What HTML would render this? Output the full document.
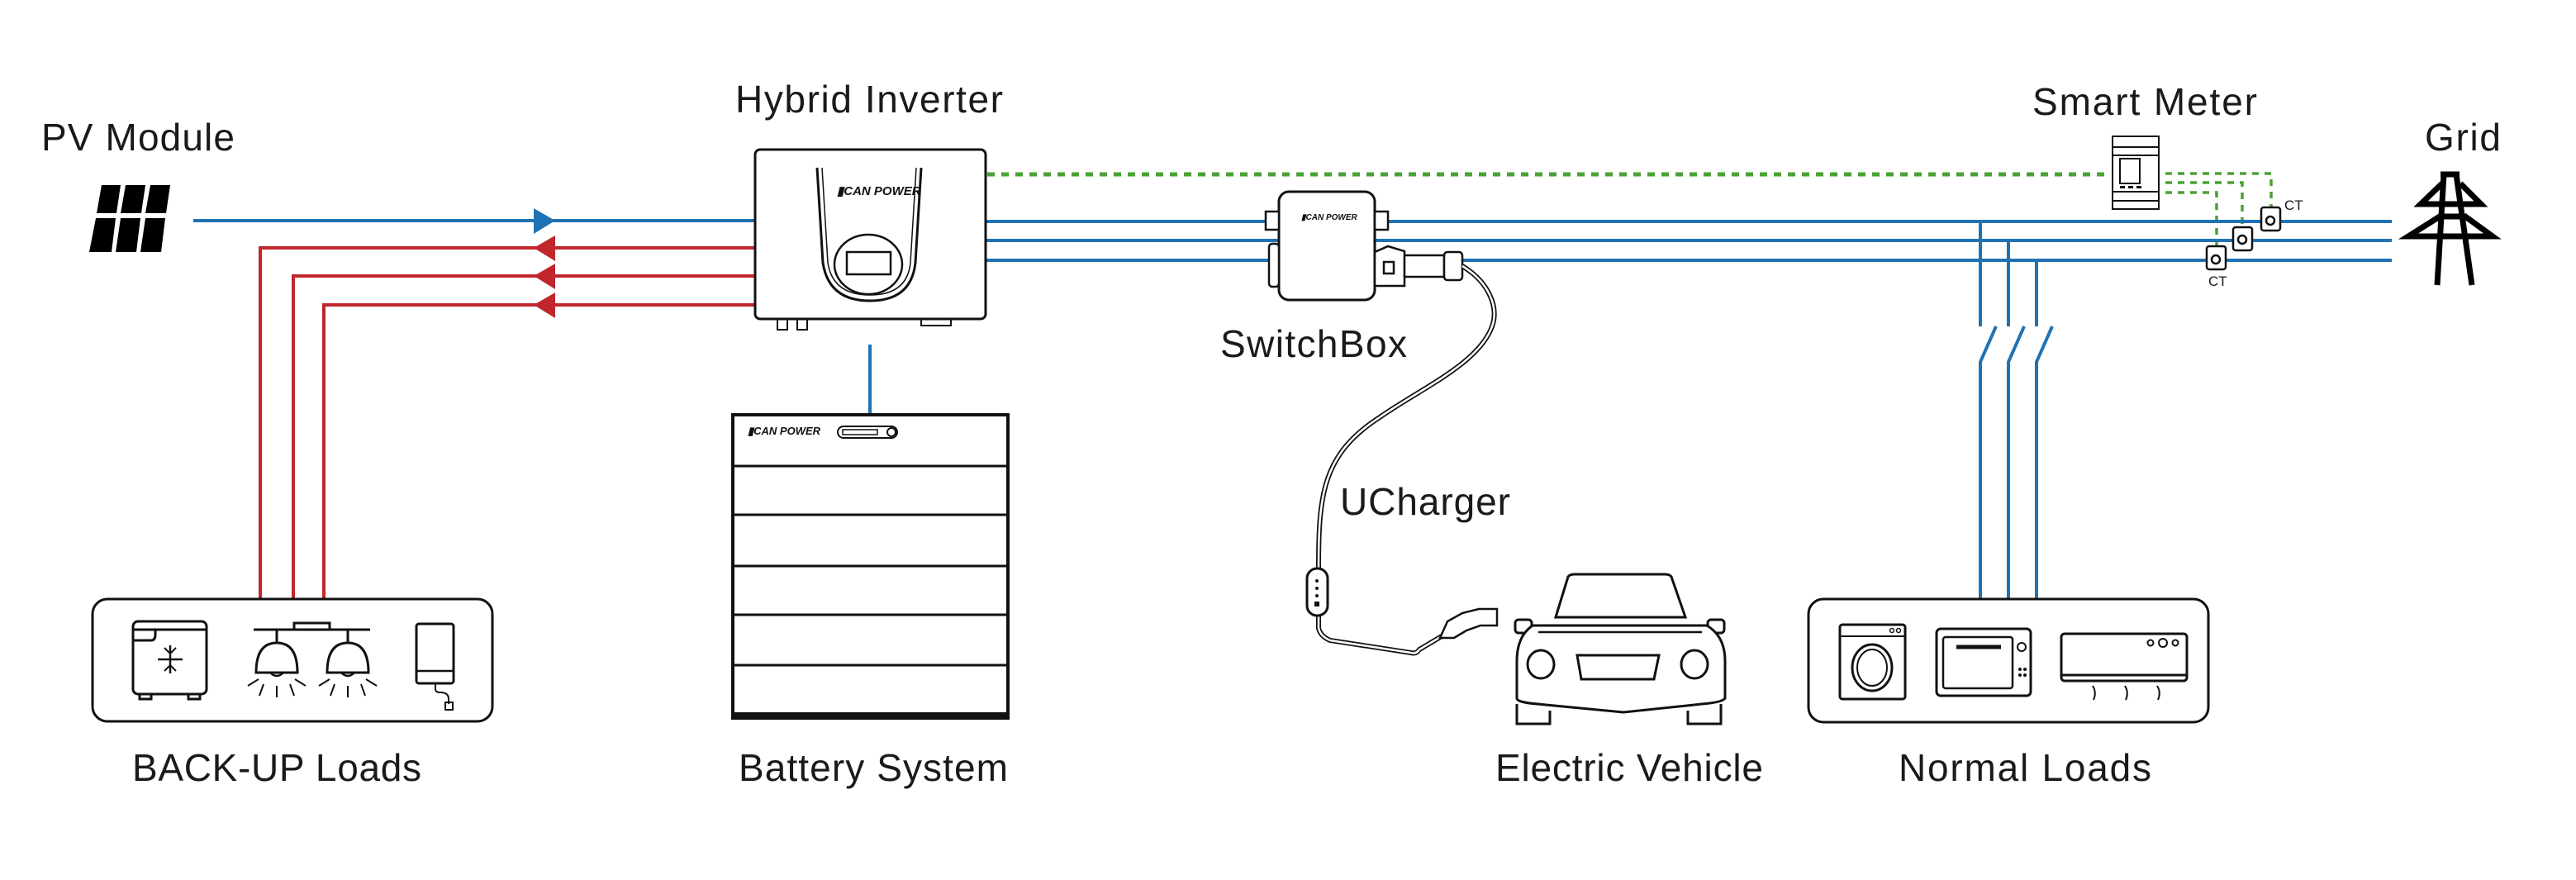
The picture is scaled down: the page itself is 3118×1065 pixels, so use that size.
<!DOCTYPE html>
<html><head><meta charset="utf-8"><style>
html,body{margin:0;padding:0;background:#fff;}
svg{display:block;}
text{font-family:"Liberation Sans",sans-serif;fill:#1a1a1a;}
</style></head><body>
<svg width="3118" height="1065" viewBox="0 0 3118 1065" xmlns="http://www.w3.org/2000/svg">
<rect width="3118" height="1065" fill="#fff"/>
<!-- labels -->
<text x="50" y="182" font-size="46" textLength="234">PV Module</text>
<text x="890" y="136" font-size="46" textLength="324">Hybrid Inverter</text>
<text x="2460" y="139" font-size="46" textLength="272">Smart Meter</text>
<text x="2935" y="182" font-size="46" textLength="92">Grid</text>
<text x="1477" y="432" font-size="46" textLength="226">SwitchBox</text>
<text x="1622" y="623" font-size="46" textLength="206">UCharger</text>
<text x="160" y="945" font-size="46" textLength="350">BACK-UP Loads</text>
<text x="894" y="945" font-size="46" textLength="326">Battery System</text>
<text x="1810" y="945" font-size="46" textLength="324">Electric Vehicle</text>
<text x="2298" y="945" font-size="46" textLength="306">Normal Loads</text>

<!-- solar panel -->
<g fill="#000">
<polygon points="123,224 146,224 141,258 117,258" transform="skewX(0)"/>
<polygon points="152,224 176,224 171,258 146,258"/>
<polygon points="182,224 206,224 201,258 176,258"/>
<polygon points="116,264 140,264 135,305 108,305"/>
<polygon points="146,264 170,264 165,305 140,305"/>
<polygon points="176,264 200,264 195,305 170,305"/>
</g>

<!-- PV line -->
<line x1="234" y1="267" x2="916" y2="267" stroke="#1f72b4" stroke-width="4"/>
<polygon points="646,252 672,267 646,283" fill="#1f72b4"/>

<!-- red lines -->
<g fill="none" stroke="#c0262c" stroke-width="4">
<polyline points="916,300 315,300 315,725"/>
<polyline points="916,334 355,334 355,725"/>
<polyline points="916,369 392,369 392,725"/>
</g>
<g fill="#c0262c">
<polygon points="672,285 646,300 672,316"/>
<polygon points="672,319 646,334 672,350"/>
<polygon points="672,354 646,369 672,385"/>
</g>

<!-- green dashed -->
<line x1="1195" y1="211" x2="2555" y2="211" stroke="#4aa236" stroke-width="5" stroke-dasharray="9,8"/>
<g fill="none" stroke="#4aa236" stroke-width="3.5" stroke-dasharray="8,7">
<polyline points="2621,210 2749,210 2749,251"/>
<polyline points="2621,221 2714,221 2714,275"/>
<polyline points="2621,233 2683,233 2683,298"/>
</g>

<!-- blue grid lines -->
<g stroke="#1f72b4" stroke-width="4" fill="none">
<line x1="1193" y1="268" x2="2895" y2="268"/>
<line x1="1193" y1="291" x2="2895" y2="291"/>
<line x1="1193" y1="315" x2="2895" y2="315"/>
<polyline points="2397,268 2397,395"/>
<polyline points="2431,291 2431,395"/>
<polyline points="2465,315 2465,395"/>
<polyline points="2416,395 2397,438 2397,725"/>
<polyline points="2450,395 2431,438 2431,725"/>
<polyline points="2484,395 2465,438 2465,725"/>
<line x1="1053" y1="417" x2="1053" y2="502"/>
</g>

<!-- inverter -->
<rect x="914" y="181" width="279" height="205" rx="6" fill="#fff" stroke="#111" stroke-width="3"/>
<path d="M989,203 L996,318 Q1003,364 1053,364 Q1103,364 1108,318 L1115,203" fill="none" stroke="#111" stroke-width="3"/>
<path d="M995,203 L1002,318 Q1008,357 1053,357 Q1098,357 1102,318 L1109,203" fill="none" stroke="#111" stroke-width="1.5"/>
<ellipse cx="1051" cy="320" rx="41" ry="36" fill="none" stroke="#111" stroke-width="2.5"/>
<rect x="1025" y="305" width="53" height="27" fill="none" stroke="#111" stroke-width="2.5"/>
<text x="1013" y="236" font-size="15" font-style="italic" font-weight="bold" style="fill:#111">▮CAN POWER</text>
<rect x="941" y="386" width="12" height="13" fill="none" stroke="#111" stroke-width="2"/>
<rect x="965" y="386" width="12" height="13" fill="none" stroke="#111" stroke-width="2"/>
<rect x="1115" y="386" width="36" height="8" fill="none" stroke="#111" stroke-width="2"/>

<!-- battery -->
<rect x="887" y="502" width="333" height="367" fill="#fff" stroke="#111" stroke-width="4"/>
<rect x="885" y="862" width="337" height="9" fill="#111"/>
<g stroke="#111" stroke-width="3">
<line x1="887" y1="564" x2="1220" y2="564"/>
<line x1="887" y1="623" x2="1220" y2="623"/>
<line x1="887" y1="685" x2="1220" y2="685"/>
<line x1="887" y1="744" x2="1220" y2="744"/>
<line x1="887" y1="805" x2="1220" y2="805"/>
</g>
<text x="905" y="526" font-size="13" font-style="italic" font-weight="bold" style="fill:#111">▮CAN POWER</text>
<rect x="1014" y="516" width="72" height="14" rx="7" fill="none" stroke="#111" stroke-width="2"/>
<rect x="1020" y="520" width="42" height="6" fill="none" stroke="#111" stroke-width="1.5"/>
<circle cx="1079" cy="523" r="5" fill="none" stroke="#111" stroke-width="2"/>

<!-- backup loads box -->
<rect x="112" y="725" width="484" height="148" rx="18" fill="#fff" stroke="#111" stroke-width="3"/>
<g fill="none" stroke="#111" stroke-width="3">
<rect x="161" y="752" width="89" height="88" rx="6"/>
<line x1="161" y1="762" x2="250" y2="762"/>
<path d="M161,775 L183,775 Q188,775 188,768 L188,762"/>
<rect x="169" y="840" width="14" height="6"/>
<rect x="228" y="840" width="14" height="6"/>
<line x1="206" y1="781" x2="206" y2="815" stroke-width="2.5"/>
<line x1="191" y1="798" x2="221" y2="798" stroke-width="2.5"/>
<path d="M199,784 L206,791 L213,784 M199,812 L206,805 L213,812" stroke-width="2"/>
<line x1="307" y1="762" x2="448" y2="762"/>
<rect x="356" y="754" width="43" height="8"/>
<line x1="335" y1="762" x2="335" y2="778"/>
<line x1="421" y1="762" x2="421" y2="778"/>
<path d="M310,814 Q310,778 335,778 Q360,778 360,814 Z"/>
<path d="M396,814 Q396,778 421,778 Q446,778 446,814 Z"/>
<path d="M327,814 Q335,822 343,814 M413,814 Q421,822 429,814" stroke-width="2.5"/>
<path d="M300,830 L313,822 M314,842 L319,828 M335,844 L335,830 M351,828 L356,842 M357,822 L370,830" stroke-width="2"/>
<path d="M386,830 L399,822 M400,842 L405,828 M421,844 L421,830 M437,828 L442,842 M443,822 L456,830" stroke-width="2"/>
<rect x="504" y="755" width="45" height="72" rx="3"/>
<line x1="504" y1="812" x2="549" y2="812" stroke-width="2.5"/>
<path d="M527,827 L527,834 Q527,838 533,838 Q543,838 543,846 L543,852" stroke-width="2"/>
<rect x="539" y="850" width="9" height="9" stroke-width="2"/>
</g>

<!-- switchbox -->
<rect x="1548" y="232" width="116" height="131" rx="12" fill="#fff" stroke="#111" stroke-width="3"/>
<text x="1575" y="266" font-size="10" font-style="italic" font-weight="bold" style="fill:#111">▮CAN POWER</text>
<g fill="#fff" stroke="#111" stroke-width="2.5">
<rect x="1532" y="256" width="16" height="22"/>
<rect x="1664" y="256" width="16" height="22"/>
<rect x="1536" y="295" width="12" height="52" rx="4"/>
<path d="M1664,305 L1680,298 L1700,304 L1700,346 L1664,346 Z"/>
<rect x="1675" y="317" width="12" height="14"/>
<rect x="1700" y="309" width="48" height="26"/>
<rect x="1748" y="305" width="22" height="34" rx="4"/>
</g>

<!-- charger cable -->
<path d="M1770,322 C1800,340 1815,370 1806,395 C1790,440 1720,470 1670,505 C1600,550 1596,600 1596,688" fill="none" stroke="#111" stroke-width="6"/>
<path d="M1770,322 C1800,340 1815,370 1806,395 C1790,440 1720,470 1670,505 C1600,550 1596,600 1596,688" fill="none" stroke="#fff" stroke-width="2.5"/>
<path d="M1596,744 L1596,760 Q1598,770 1610,775 L1708,790 Q1714,792 1718,786 L1745,770" fill="none" stroke="#111" stroke-width="6"/>
<path d="M1596,744 L1596,760 Q1598,770 1610,775 L1708,790 Q1714,792 1718,786 L1745,770" fill="none" stroke="#fff" stroke-width="2.5"/>
<rect x="1582" y="688" width="25" height="57" rx="12" fill="#fff" stroke="#111" stroke-width="3"/>
<g fill="#111"><circle cx="1594" cy="703" r="2"/><circle cx="1594" cy="712" r="2"/><circle cx="1594" cy="721" r="2"/><rect x="1591" y="728" width="6" height="6"/></g>
<path d="M1743,772 L1752,752 L1770,742 L1790,737 L1812,737 L1812,757 L1792,757 L1775,763 L1760,772 Z" fill="#fff" stroke="#111" stroke-width="2.5"/>

<!-- car -->
<g fill="#fff" stroke="#111" stroke-width="3">
<path d="M1883,747 L1898,698 Q1900,695 1906,695 L2015,695 Q2021,695 2023,698 L2040,747 Z"/>
<rect x="1834" y="750" width="20" height="16" rx="4"/>
<rect x="2067" y="750" width="20" height="16" rx="4"/>
<path d="M1855,757 L2066,757 Q2088,770 2088,800 L2088,845 Q2085,850 2060,852 L1965,862 L1861,852 Q1836,850 1836,845 L1836,800 Q1836,770 1855,757 Z"/>
<line x1="1862" y1="765" x2="2060" y2="765" stroke-width="2.5"/>
<ellipse cx="1865" cy="804" rx="16" ry="17"/>
<ellipse cx="2051" cy="804" rx="16" ry="17"/>
<path d="M1909,793 L2008,793 L2002,822 L1914,822 Z"/>
<path d="M1836,852 L1836,876 L1876,876 L1876,860"/>
<path d="M2043,860 L2043,876 L2083,876 L2083,852"/>
</g>

<!-- normal loads -->
<rect x="2189" y="725" width="484" height="149" rx="18" fill="#fff" stroke="#111" stroke-width="3"/>
<g fill="none" stroke="#111" stroke-width="3">
<rect x="2227" y="756" width="79" height="90" rx="3"/>
<line x1="2227" y1="770" x2="2306" y2="770" stroke-width="2"/>
<circle cx="2290" cy="763" r="2.5" stroke-width="1.5"/><circle cx="2298" cy="763" r="2.5" stroke-width="1.5"/>
<ellipse cx="2266" cy="808" rx="24" ry="28"/>
<ellipse cx="2266" cy="808" rx="18" ry="22" stroke-width="2"/>
<rect x="2344" y="761" width="114" height="81" rx="5"/>
<rect x="2352" y="771" width="84" height="62" rx="3" stroke-width="2.5"/>
<line x1="2368" y1="783" x2="2422" y2="783" stroke-width="5"/>
<circle cx="2447" cy="783" r="5" stroke-width="2"/>
<rect x="2495" y="767" width="152" height="57" rx="4"/>
<line x1="2495" y1="817" x2="2647" y2="817" stroke-width="3"/>
<line x1="2498" y1="824" x2="2645" y2="824" stroke-width="2.5"/>
<circle cx="2603" cy="778" r="3.5" stroke-width="2"/><circle cx="2618" cy="778" r="5" stroke-width="2"/><circle cx="2633" cy="778" r="3.5" stroke-width="2"/>
<path d="M2533,830 Q2538,838 2534,847 M2572,830 Q2577,838 2573,847 M2611,830 Q2616,838 2612,847" stroke-width="2"/>
</g>
<g fill="#111"><circle cx="2445" cy="810" r="2"/><circle cx="2451" cy="810" r="2"/><circle cx="2445" cy="817" r="2"/><circle cx="2451" cy="817" r="2"/></g>

<!-- smart meter -->
<g fill="#fff" stroke="#111" stroke-width="2">
<rect x="2557" y="165" width="56" height="88"/>
<line x1="2557" y1="178" x2="2613" y2="178"/>
<line x1="2557" y1="188" x2="2613" y2="188"/>
<rect x="2566" y="192" width="24" height="30" stroke-width="2"/>
<line x1="2557" y1="232" x2="2613" y2="232"/>
<line x1="2557" y1="243" x2="2613" y2="243"/>
</g>
<g fill="#111"><rect x="2566" y="225" width="6" height="3"/><rect x="2576" y="225" width="6" height="3"/><rect x="2586" y="225" width="6" height="3"/></g>

<!-- CTs -->
<g fill="#fff" stroke="#111" stroke-width="2.5">
<rect x="2737" y="251" width="23" height="28" rx="3"/>
<circle cx="2748" cy="267" r="5"/>
<rect x="2703" y="275" width="23" height="28" rx="3"/>
<circle cx="2714" cy="290" r="5"/>
<rect x="2671" y="298" width="23" height="28" rx="3"/>
<circle cx="2682" cy="314" r="5"/>
</g>
<text x="2765" y="254" font-size="17">CT</text>
<text x="2673" y="346" font-size="17">CT</text>

<!-- grid tower -->
<g fill="none" stroke="#000" stroke-width="7" stroke-linejoin="miter">
<path d="M2954,211 L2977,211"/>
<path d="M2958,211 L2950,345 M2973,211 L2992,345" />
<path d="M2956,222 L2930,247 L3003,247 L2978,222"/>
<path d="M2953,262 L2915,286 L3017,286 L2984,262 Z"/>
<line x1="2952" y1="262" x2="2986" y2="262"/>
</g>
</svg>
</body></html>
